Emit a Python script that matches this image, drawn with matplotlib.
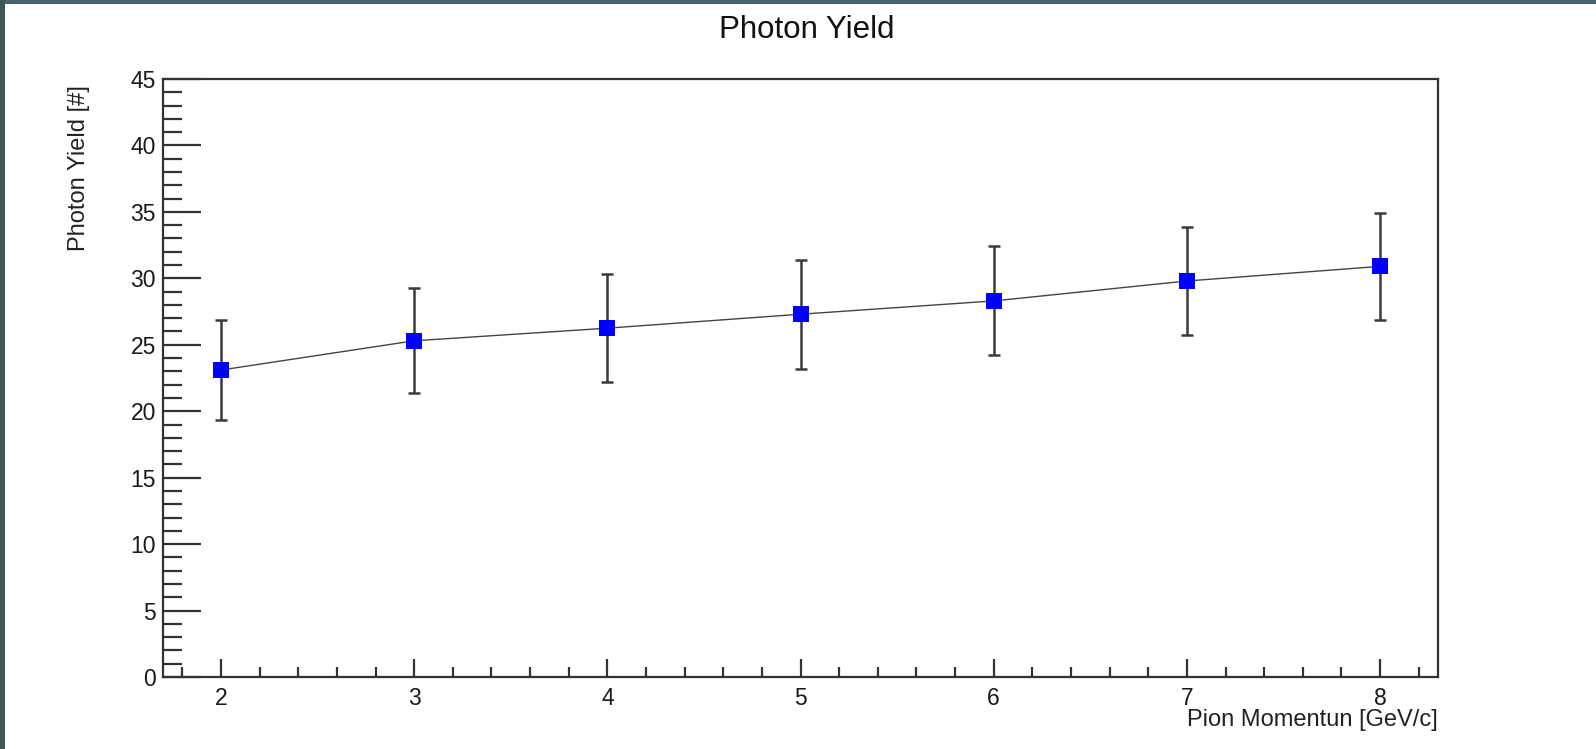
import matplotlib
matplotlib.use("Agg")
import matplotlib.pyplot as plt
from matplotlib.patches import Rectangle
from matplotlib.ticker import MultipleLocator

plt.rcParams['font.family'] = ['Liberation Sans', 'DejaVu Sans']

# ---- Data ----
momentum = [2, 3, 4, 5, 6, 7, 8]                             # GeV/c
photon_yield = [23.1, 25.3, 26.25, 27.3, 28.3, 29.8, 30.9]
yield_err = [3.75, 3.95, 4.05, 4.1, 4.1, 4.1, 4.0]

title = "Photon Yield"
x_title = "Pion Momentun [GeV/c]"
y_title = "Photon Yield [#]"

# ---- Figure ----
W, H = 1596, 749
fig = plt.figure(figsize=(W / 100, H / 100), dpi=100)
fig.patch.set_facecolor("white")

# slide frame showing at the top and left edges
fig.patches.append(Rectangle((0, 1 - 4 / H), 1, 4 / H, transform=fig.transFigure,
                             facecolor="#4b636c", edgecolor="none", zorder=0))
fig.patches.append(Rectangle((0, 0), 5 / W, 1, transform=fig.transFigure,
                             facecolor="#3f545b", edgecolor="none", zorder=0))

ax = fig.add_axes([163 / W, 1 - 677 / H, (1438 - 163) / W, (677 - 79) / H])

ax.errorbar(momentum, photon_yield, yerr=yield_err, fmt="none",
            ecolor="#3a3a3a", elinewidth=1.8, capsize=4, capthick=1.8, zorder=2)
ax.plot(momentum, photon_yield, color="#444444", lw=1.0, zorder=3)
ax.plot(momentum, photon_yield, ls="none", marker="s", markersize=11.5,
        color="#0000ff", markeredgewidth=0, zorder=4)

ax.set_xlim(1.7, 8.3)
ax.set_ylim(0, 45)

ax.xaxis.set_major_locator(MultipleLocator(1))
ax.xaxis.set_minor_locator(MultipleLocator(0.2))
ax.yaxis.set_major_locator(MultipleLocator(5))
ax.yaxis.set_minor_locator(MultipleLocator(1))

ax.tick_params(axis="both", which="both", direction="in", color="#333333",
               width=1.6, labelsize=16.5, labelcolor="#1a1a1a",
               top=False, right=False)
ax.tick_params(axis="y", which="major", length=27, pad=5)
ax.tick_params(axis="y", which="minor", length=14)
ax.tick_params(axis="x", which="major", length=13, pad=7)
ax.tick_params(axis="x", which="minor", length=7)

for sp in ax.spines.values():
    sp.set_color("#333333")
    sp.set_linewidth(1.6)

fig.text(807 / W, 1 - 30 / H, title, ha="center", va="center", fontsize=22.5,
         color="#111111")
fig.text(1438 / W, 1 - 720 / H, x_title, ha="right", va="center", fontsize=17,
         color="#222222")
fig.text(79 / W, 1 - 85 / H, y_title, ha="center", va="top", rotation=90,
         fontsize=17, color="#222222")

fig.savefig("out.png", dpi=100)
